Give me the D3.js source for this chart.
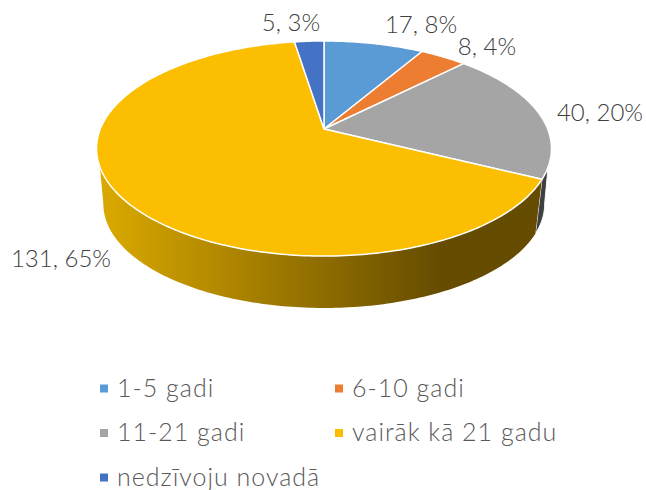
<!DOCTYPE html>
<html>
<head>
<meta charset="utf-8">
<script src="https://cdn.jsdelivr.net/npm/d3@7"></script>
<style>
  html, body { margin: 0; padding: 0; background: #fff; }
  svg { display: block; }
  text { font-family: Lato, "Open Sans", sans-serif; font-weight: 300; }
</style>
</head>
<body>
<svg width="646" height="490"></svg>
<script>
// data
var categories = ["1-5 gadi", "6-10 gadi", "11-21 gadi", "vairāk kā 21 gadu", "nedzīvoju novadā"];
var values = [17, 8, 40, 131, 5];
var percents = ["8%", "4%", "20%", "65%", "3%"];
var colors = ["#5b9bd5", "#ed7d31", "#a5a5a5", "#fbbe00", "#4472c4"];

var svg = d3.select("svg");
var defs = svg.append("defs");

var cx = 324;
// perspective of the disc, top face and bottom face
// side is where the wall outline leaves that face, as an angle from the front
var topFace = { k: 223.7, a: 80.6, b: 129, c: -0.1814, side: Math.acos(0.3427) };
var bottomFace = { k: 217, a: 67, b: 185.1, c: -0.1814, side: Math.acos(0.1814) };

function project(face, angle) {
  var u = Math.sin(angle);
  var v = -Math.cos(angle);
  var w = 1 + face.c * v;
  return [cx + (face.k * u) / w, (face.a * v + face.b) / w];
}

function arcPoints(face, start, end) {
  var n = Math.max(2, Math.ceil((end - start) * 60));
  return d3.range(n + 1).map(function (i) {
    return project(face, start + ((end - start) * i) / n);
  });
}

// part of a slice's edge that shows on the wall of the given face
function wallPoints(face, d) {
  var start = Math.max(d.startAngle, Math.PI - face.side);
  var end = Math.min(d.endAngle, Math.PI + face.side);
  return end > start ? arcPoints(face, start, end) : [];
}

var pie = d3.pie().sort(null);
var slices = pie(values);
var line = d3.line();

// yellow wall goes dark to the right
var grad = defs
  .append("linearGradient")
  .attr("id", "wallYellow")
  .attr("gradientUnits", "userSpaceOnUse")
  .attr("x1", 97)
  .attr("x2", 440)
  .attr("y1", 0)
  .attr("y2", 0);
grad.append("stop").attr("offset", 0).attr("stop-color", "#dcaa00");
grad.append("stop").attr("offset", 1).attr("stop-color", "#654c00");

var wallFill = ["#3a5f80", "#8a4a1d", "#3d3f42", "url(#wallYellow)", "#2a4476"];

// side walls first, the top face covers whatever is behind
svg
  .append("g")
  .selectAll("path")
  .data(slices)
  .enter()
  .append("path")
  .attr("d", function (d) {
    var pts = wallPoints(topFace, d).concat(wallPoints(bottomFace, d).reverse());
    return pts.length ? line(pts) + "Z" : null;
  })
  .attr("fill", function (d, i) {
    return wallFill[i];
  })
  .attr("stroke", function (d, i) {
    return i == 2 ? "#fff" : "none";
  })
  .attr("stroke-width", 1);

svg
  .append("g")
  .selectAll("path")
  .data(slices)
  .enter()
  .append("path")
  .attr("d", function (d) {
    return line([[cx, topFace.b]].concat(arcPoints(topFace, d.startAngle, d.endAngle))) + "Z";
  })
  .attr("fill", function (d, i) {
    return colors[i];
  })
  .attr("stroke", "#fff")
  .attr("stroke-width", 1.5)
  .attr("stroke-linejoin", "round");

// data labels
var labelPos = [
  [421, 33],
  [487, 55],
  [600, 121],
  [61, 267],
  [291, 31],
];
svg
  .append("g")
  .selectAll("text")
  .data(values)
  .enter()
  .append("text")
  .attr("x", function (d, i) {
    return labelPos[i][0];
  })
  .attr("y", function (d, i) {
    return labelPos[i][1];
  })
  .attr("text-anchor", "middle")
  .attr("font-size", 24)
  .attr("fill", "#404040")
  .text(function (d, i) {
    return d + ", " + percents[i];
  });

// legend, two columns
var legendX = d3.scalePoint().domain([0, 1]).range([100, 335]);
var legendY = d3.scalePoint().domain([0, 1, 2]).range([388.5, 477.5]);

var items = svg
  .append("g")
  .selectAll("g")
  .data(categories)
  .enter()
  .append("g")
  .attr("transform", function (d, i) {
    return "translate(" + legendX(i % 2) + "," + legendY(Math.floor(i / 2)) + ")";
  });

items
  .append("rect")
  .attr("y", -4)
  .attr("width", 8)
  .attr("height", 8)
  .attr("fill", function (d, i) {
    return colors[i];
  });

items
  .append("text")
  .attr("x", 17)
  .attr("y", 8)
  .attr("font-size", 25)
  .attr("letter-spacing", 1)
  .attr("fill", "#595959")
  .text(function (d) {
    return d;
  });
</script>
</body>
</html>
